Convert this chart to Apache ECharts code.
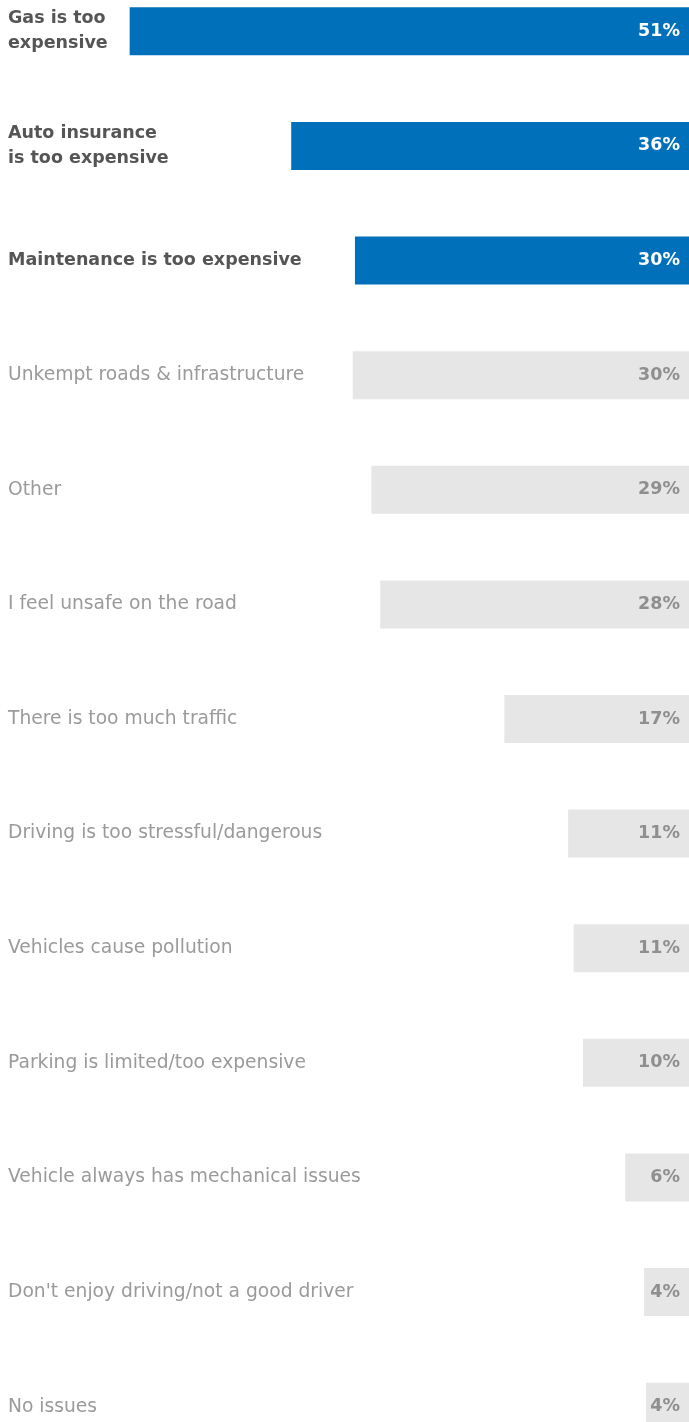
<!DOCTYPE html>
<html>
<head>
<meta charset="utf-8">
<script src="https://cdn.jsdelivr.net/npm/echarts@6/dist/echarts.min.js"></script>
<style>
html,body{margin:0;padding:0;background:#fff;overflow:hidden;}
#chart{position:absolute;left:0;top:-26px;width:689px;height:1490px;}
</style>
</head>
<body>
<div id="chart"></div>
<script>
// 数据
var categories = [
	"Gas is too\nexpensive",
	"Auto insurance\nis too expensive",
	"Maintenance is too expensive",
	"Unkempt roads & infrastructure",
	"Other",
	"I feel unsafe on the road",
	"There is too much traffic",
	"Driving is too stressful/dangerous",
	"Vehicles cause pollution",
	"Parking is limited/too expensive",
	"Vehicle always has mechanical issues",
	"Don't enjoy driving/not a good driver",
	"No issues"
];
var shares = [50.9, 36.2, 30.4, 30.6, 28.9, 28.1, 16.8, 11.0, 10.5, 9.65, 5.8, 4.1, 3.9];
var shareLabels = ["51%", "36%", "30%", "30%", "29%", "28%", "17%", "11%", "11%", "10%", "6%", "4%", "4%"];
var topCount = 3;

var fontName = '"DejaVu Sans", sans-serif';

var myChart = echarts.init(document.getElementById("chart"));
var option = {
	backgroundColor: '#fff',
	animation: false,
	grid: {
		left: 0,
		right: 0,
		top: 0,
		bottom: 0,
		containLabel: false
	},
	xAxis: {
		type: 'value',
		inverse: true,
		min: 0,
		max: 62.7,
		show: false
	},
	yAxis: {
		type: 'category',
		data: categories,
		inverse: true,
		axisLine: {show: false},
		axisTick: {show: false},
		splitLine: {show: false},
		axisLabel: {
			inside: true,
			margin: 8,
			align: 'left',
			formatter: function (value, index) {
				return (index < topCount ? '{b|' : '{n|') + value + '}';
			},
			rich: {
				b: {fontFamily: fontName, fontSize: 17.5, fontWeight: 'bold', color: '#555555', lineHeight: 25},
				n: {fontFamily: fontName, fontSize: 18.7, color: '#9a9a9a', lineHeight: 25}
			}
		},
		z: 10
	},
	series: [{
		type: 'bar',
		barWidth: 48,
		data: shares.map(function (v, i) {
			return {
				value: v,
				itemStyle: {color: i < topCount ? '#0070ba' : '#e6e6e6'},
				label: {color: i < topCount ? '#ffffff' : '#8f8f8f'}
			};
		}),
		label: {
			show: true,
			position: 'insideRight',
			distance: 9,
			fontFamily: fontName,
			fontSize: 17.5,
			fontWeight: 'bold',
			formatter: function (p) {
				return shareLabels[p.dataIndex];
			}
		}
	}]
};
myChart.setOption(option);
</script>
</body>
</html>
